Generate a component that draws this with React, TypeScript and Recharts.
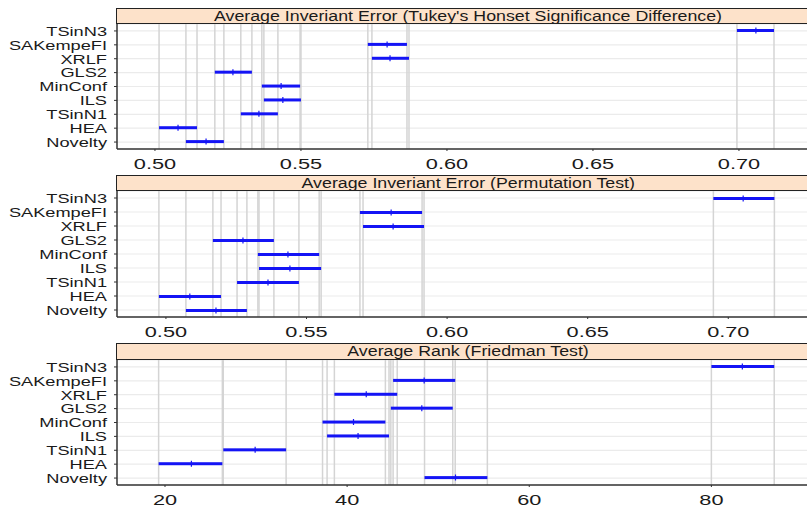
import React from 'react';
import { ComposedChart, Bar, XAxis, YAxis, CartesianGrid, ReferenceLine } from 'recharts';

const algorithms = ['TSinN3', 'SAKempeFI', 'XRLF', 'GLS2', 'MinConf', 'ILS', 'TSinN1', 'HEA', 'Novelty'];

// Tukey HSD intervals on average inveriant error
const tukeyLow = [0.6993, 0.5729, 0.5743, 0.5205, 0.5366, 0.5373, 0.5294, 0.5014, 0.5106];
const tukeyMean = [0.7058, 0.5795, 0.5805, 0.5267, 0.5432, 0.5438, 0.5356, 0.5079, 0.5175];
const tukeyHigh = [0.712, 0.5863, 0.587, 0.5332, 0.5497, 0.55, 0.5421, 0.5144, 0.5236];

// permutation test intervals
const permLow = [0.6947, 0.569, 0.5701, 0.5167, 0.5327, 0.5331, 0.5253, 0.4975, 0.5071];
const permMean = [0.7053, 0.5801, 0.5808, 0.5274, 0.5434, 0.5441, 0.5363, 0.5085, 0.5178];
const permHigh = [0.7164, 0.5911, 0.5918, 0.5384, 0.5545, 0.5552, 0.5473, 0.5196, 0.5288];

// Friedman average rank intervals
const rankLow = [80.0, 45.05, 38.6, 44.8, 37.3, 37.8, 26.4, 19.3, 48.5];
const rankMean = [83.4, 48.46, 42.1, 48.2, 40.7, 41.2, 29.9, 22.9, 51.9];
const rankHigh = [86.9, 51.87, 45.5, 51.6, 44.2, 44.6, 33.3, 26.3, 55.4];

const errorTicks = [0.5, 0.55, 0.6, 0.65, 0.7];
const rankTicks = [20, 40, 60, 80];

const BLUE = '#1414f5';
const FONT = '"Liberation Sans", Arial, sans-serif';

const build = (lo: number[], mid: number[], hi: number[]) =>
  algorithms.map((name, i) => ({ name, lo: lo[i], mid: mid[i], hi: hi[i] }));

const IntervalShape = (props: any) => {
  const { x, y, width, height, payload } = props;
  if (width == null || !payload) return null;
  const cx = x + (width * (payload.mid - payload.lo)) / (payload.hi - payload.lo);
  const cy = y + height / 2;
  return (
    <g>
      <rect x={x} y={y} width={width} height={height} fill={BLUE} />
      <line x1={cx} x2={cx} y1={cy - 3} y2={cy + 3} stroke={BLUE} strokeWidth={1.2} />
    </g>
  );
};

const YTick = ({ x, y, payload }: any) => (
  <text
    transform={`translate(${x},${y}) scale(1.35,1)`}
    textAnchor="end"
    dy="0.36em"
    fontSize={13.5}
    fontFamily={FONT}
    fill="#1a1a1a"
  >
    {payload.value}
  </text>
);

const makeXTick = (digits: number) => ({ x, y, payload }: any) => (
  <text
    transform={`translate(${x},${y}) scale(1.5,1)`}
    textAnchor="middle"
    dy="0.71em"
    fontSize={14.5}
    fontFamily={FONT}
    fill="#1a1a1a"
  >
    {payload.value.toFixed(digits)}
  </text>
);

interface PanelProps {
  title: string;
  top: number;
  headerH: number;
  plotH: number;
  rows: { name: string; lo: number; mid: number; hi: number }[];
  domain: [number, number];
  ticks: number[];
  digits: number;
}

function Panel({ title, top, headerH, plotH, rows, domain, ticks, digits }: PanelProps) {
  const edges = rows.flatMap((r) => [r.lo, r.hi]);
  return (
    <div style={{ position: 'absolute', left: 0, top, width: 807 }}>
      <div
        style={{
          position: 'absolute',
          left: 116,
          top: 0,
          width: 807 - 116,
          height: headerH,
          boxSizing: 'border-box',
          background: '#fde2ca',
          borderTop: '1.5px solid #222',
          borderBottom: '1.5px solid #222',
          borderLeft: '1.5px solid #222',
          textAlign: 'center',
          fontFamily: FONT,
          fontSize: 14,
          lineHeight: `${headerH - 2}px`,
          color: '#1a1a1a',
          whiteSpace: 'nowrap',
          overflow: 'hidden',
        }}
      >
        <span style={{ display: 'inline-block', transform: 'scaleX(1.27)', marginLeft: 12 }}>{title}</span>
      </div>
      <div style={{ position: 'absolute', left: 0, top: headerH }}>
        <ComposedChart
          width={807}
          height={plotH + 26}
          data={rows}
          layout="vertical"
          margin={{ top: 0, right: 0, bottom: 0, left: 0 }}
        >
          <CartesianGrid horizontal vertical={false} stroke="#ebebeb" strokeWidth={1.2} />
          {edges.map((v, i) => (
            <ReferenceLine key={i} x={v} stroke="#d4d4d4" strokeWidth={1.5} zIndex={-50} />
          ))}
          <XAxis
            type="number"
            domain={domain}
            ticks={ticks}
            allowDataOverflow
            height={26}
            axisLine={{ stroke: '#333', strokeWidth: 1.5 }}
            tickLine={{ stroke: '#333' }}
            tickSize={2}
            tickMargin={8}
            tick={makeXTick(digits)}
          />
          <YAxis
            type="category"
            dataKey="name"
            width={117}
            axisLine={{ stroke: '#333', strokeWidth: 1.5 }}
            tickLine={{ stroke: '#333' }}
            tickSize={3}
            tickMargin={7}
            tick={<YTick />}
            interval={0}
          />
          <Bar
            dataKey={(d: any) => [d.lo, d.hi]}
            barSize={3}
            shape={<IntervalShape />}
            isAnimationActive={false}
            zIndex={300}
          />
        </ComposedChart>
      </div>
    </div>
  );
}

export default function App() {
  return (
    <div style={{ position: 'absolute', left: 0, top: 0, width: 807, height: 507, background: '#fff', overflow: 'hidden' }}>
      <Panel
        title="Average Inveriant Error (Tukey's Honset Significance Difference)"
        top={7.5}
        headerH={16.5}
        plotH={125}
        rows={build(tukeyLow, tukeyMean, tukeyHigh)}
        domain={[0.487, 0.7233]}
        ticks={errorTicks}
        digits={2}
      />
      <Panel
        title="Average Inveriant Error (Permutation Test)"
        top={175}
        headerH={16}
        plotH={126}
        rows={build(permLow, permMean, permHigh)}
        domain={[0.4826, 0.728]}
        ticks={errorTicks}
        digits={2}
      />
      <Panel
        title="Average Rank (Friedman Test)"
        top={343}
        headerH={17}
        plotH={125}
        rows={build(rankLow, rankMean, rankHigh)}
        domain={[14.73, 90.5]}
        ticks={rankTicks}
        digits={0}
      />
    </div>
  );
}
